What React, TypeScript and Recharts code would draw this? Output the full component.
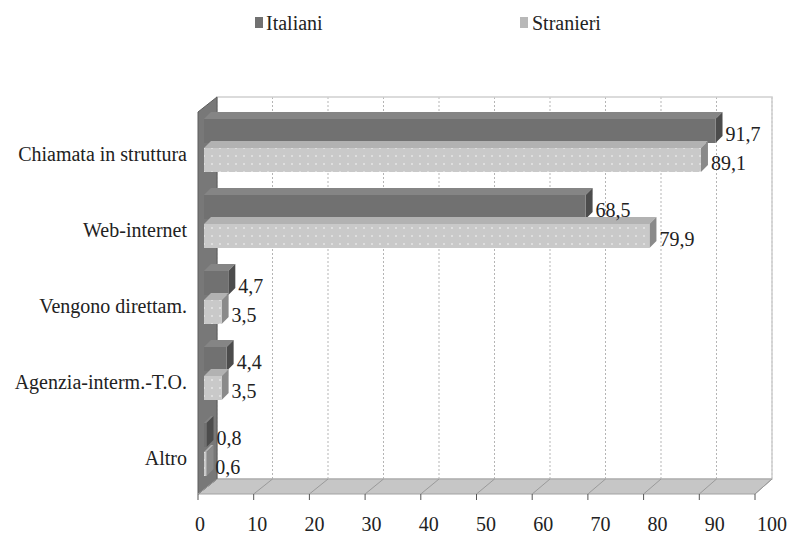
import { BarChart, Bar, XAxis, YAxis, CartesianGrid, ReferenceArea, LabelList } from 'recharts'

const categories = ['Chiamata in struttura', 'Web-internet', 'Vengono direttam.', 'Agenzia-interm.-T.O.', 'Altro']
const italiani = [91.7, 68.5, 4.7, 4.4, 0.8]
const stranieri = [89.1, 79.9, 3.5, 3.5, 0.6]
const xTicks = [0, 10, 20, 30, 40, 50, 60, 70, 80, 90, 100]
const seriesNames = ['Italiani', 'Stranieri']

const data = categories.map((name, i) => ({ name, italiani: italiani[i], stranieri: stranieri[i] }))

const W = 791
const H = 537
const Y_AXIS_W = 209
const PLOT_LEFT = Y_AXIS_W
const PLOT_W = 560
const FONT = "'Liberation Serif', 'DejaVu Serif', serif"

const DARK = { front: '#717171', top: '#858585', side: '#4c4c4c' }
const LIGHT = { front: 'url(#dots)', top: '#b2b2b2', side: '#8a8a8a' }

// perspective: back wall, floor front edge and tick labels sit on different planes
const backX = (x: number) => PLOT_LEFT + 8 + ((x - PLOT_LEFT) * 555) / PLOT_W
const frontX = (x: number) => PLOT_LEFT - 11 + ((x - PLOT_LEFT) * 557) / PLOT_W
const labelX = (x: number) => PLOT_LEFT - 9 + ((x - PLOT_LEFT) * 572) / PLOT_W

const fmt = (v: number) => String(v).replace('.', ',')

function Bar3D(props: any) {
  const { x, y, width, height, colors } = props
  const d = 7
  const x0 = x - 5
  const x1 = Math.max(x0 + 2.5, x + width - d)
  const x2 = x1 + d
  return (
    <g>
      <polygon points={`${x0},${y} ${x0 + d},${y - d} ${x2},${y - d} ${x1},${y}`} fill={colors.top} />
      <polygon points={`${x1},${y} ${x2},${y - d} ${x2},${y + height - d} ${x1},${y + height}`} fill={colors.side} />
      <rect x={x0} y={y} width={x1 - x0} height={height} fill={colors.front} />
    </g>
  )
}

function Walls(props: any) {
  const { x, y, width, height } = props
  const bl = x + 8
  const br = x + width + 3
  const bt = y - 10
  const bb = y + height - 8
  const fl = x - 11
  const fr = x + width - 14
  const fb = y + height + 7
  return (
    <g>
      <rect x={bl} y={bt} width={br - bl} height={bb - bt} fill="none" stroke="#cfcfcf" strokeWidth={1.5} />
      <polygon points={`${fl},${fb} ${bl},${bb} ${br},${bb} ${fr},${fb}`} fill="#c6c6c6" stroke="#a2a2a2" />
      <polygon points={`${fl},${bt + 15} ${bl},${bt} ${bl},${bb} ${fl},${fb}`} fill="#787878" stroke="#5c5c5c" />
    </g>
  )
}

function XTick(props: any) {
  const { x, y, payload } = props
  const fx = frontX(x)
  const bx = backX(x)
  return (
    <g>
      <line x1={fx} y1={y + 7} x2={bx} y2={y - 8} stroke="#9a9a9a" />
      <line x1={fx} y1={y + 7} x2={fx} y2={y + 13} stroke="#555" />
      <text x={labelX(x)} y={y + 44} textAnchor="middle" fontSize={20} style={{ fontFamily: FONT }} fill="#222">
        {payload.value}
      </text>
    </g>
  )
}

function YTick(props: any) {
  const { y, payload } = props
  return (
    <text x={PLOT_LEFT - 22} y={y + 16} textAnchor="end" fontSize={20} style={{ fontFamily: FONT }} fill="#222">
      {payload.value}
    </text>
  )
}

function ValueLabel(props: any) {
  const { x, y, width, height, value } = props
  return (
    <text x={x + width + 3} y={y + height / 2 + 10} fontSize={20} style={{ fontFamily: FONT }} fill="#222">
      {fmt(value)}
    </text>
  )
}

export default function App() {
  return (
    <div style={{ position: 'absolute', left: 0, top: 0, width: W, height: H, background: '#fff', fontFamily: FONT }}>
      <svg width={0} height={0} style={{ position: 'absolute' }}>
        <defs>
          <pattern id="dots" width={8} height={8} patternUnits="userSpaceOnUse">
            <rect width={8} height={8} fill="#c9c9c9" />
            <circle cx={4} cy={4} r={1.1} fill="#e4e4e4" />
          </pattern>
        </defs>
      </svg>

      {/* legend */}
      <div style={{ position: 'absolute', top: 12, left: 0, fontSize: 20, color: '#222' }}>
        <div style={{ position: 'absolute', left: 255, top: 5, width: 8, height: 11, background: DARK.front }} />
        <div style={{ position: 'absolute', left: 266, top: 0, whiteSpace: 'nowrap', lineHeight: '22px' }}>{seriesNames[0]}</div>
        <div style={{ position: 'absolute', left: 520, top: 5, width: 8, height: 11, background: '#b8b8b8' }} />
        <div style={{ position: 'absolute', left: 532, top: 0, whiteSpace: 'nowrap', lineHeight: '22px' }}>{seriesNames[1]}</div>
      </div>

      <BarChart
        width={W}
        height={H}
        data={data}
        layout="vertical"
        margin={{ top: 107, right: W - PLOT_LEFT - PLOT_W, bottom: 0, left: 0 }}
        barSize={24}
        barGap={5}
      >
        <ReferenceArea x1={0} x2={100} shape={(p: any) => <Walls {...p} />} ifOverflow="visible" />
        <CartesianGrid
          horizontal={false}
          vertical={(p: any) => (
            <line
              key={p.key ?? p.index}
              x1={backX(p.x1)}
              y1={p.y1 - 10}
              x2={backX(p.x2)}
              y2={p.y2 - 8}
              stroke="#b5b5b5"
              strokeDasharray="2 2"
            />
          )}
        />
        <XAxis
          type="number"
          domain={[0, 100]}
          ticks={xTicks}
          interval={0}
          axisLine={false}
          tickLine={false}
          tickSize={0}
          tickMargin={0}
          height={50}
          tick={(p: any) => <XTick {...p} />}
        />
        <YAxis
          type="category"
          dataKey="name"
          width={Y_AXIS_W}
          axisLine={false}
          tickLine={false}
          tick={(p: any) => <YTick {...p} />}
        />
        <Bar dataKey="italiani" name={seriesNames[0]} isAnimationActive={false} shape={(p: any) => <Bar3D {...p} colors={DARK} />}>
          <LabelList dataKey="italiani" content={(p: any) => <ValueLabel {...p} />} />
        </Bar>
        <Bar dataKey="stranieri" name={seriesNames[1]} isAnimationActive={false} shape={(p: any) => <Bar3D {...p} colors={LIGHT} />}>
          <LabelList dataKey="stranieri" content={(p: any) => <ValueLabel {...p} />} />
        </Bar>
      </BarChart>
    </div>
  )
}
